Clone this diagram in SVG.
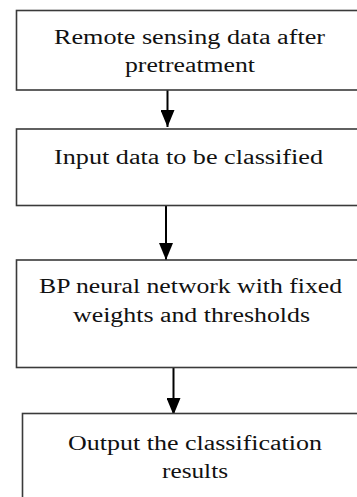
<svg xmlns="http://www.w3.org/2000/svg" width="357" height="497" viewBox="0 0 357 497">
<defs>
<style>
.box{fill:#fff;stroke:#3a3a3a;stroke-width:1.6}
.t{font-family:"Liberation Serif","Times New Roman",serif;font-size:20px;fill:#111;text-anchor:middle}
.c{stroke:#000;stroke-width:2;fill:none}
</style>
<marker id="ah" viewBox="0 0 17 14" refX="17" refY="7" markerWidth="17" markerHeight="14" markerUnits="userSpaceOnUse" orient="auto">
<path d="M0,0 L17,7 L0,14 z" fill="#000"/>
</marker>
</defs>
<rect width="357" height="497" fill="#fff"/>
<g id="connectors">
<line class="c" x1="167.5" y1="90" x2="167.5" y2="127" marker-end="url(#ah)"/>
<line class="c" x1="166" y1="200" x2="166" y2="260" marker-end="url(#ah)"/>
<line class="c" x1="173.5" y1="367" x2="173.5" y2="415" marker-end="url(#ah)"/>
</g>
<g id="n1">
<rect class="box" x="16.5" y="10.5" width="360" height="79.5"/>
<text class="t" x="189.5" y="43.5" textLength="271" lengthAdjust="spacingAndGlyphs">Remote sensing data after</text>
<text class="t" x="190" y="72" textLength="130" lengthAdjust="spacingAndGlyphs">pretreatment</text>
</g>
<g id="n2">
<rect class="box" x="16.5" y="129" width="360" height="76.5"/>
<text class="t" x="188.5" y="164" textLength="269" lengthAdjust="spacingAndGlyphs">Input data to be classified</text>
</g>
<g id="n3">
<rect class="box" x="16.5" y="260" width="360" height="107.5"/>
<text class="t" x="190.5" y="293" textLength="303" lengthAdjust="spacingAndGlyphs">BP neural network with fixed</text>
<text class="t" x="191.5" y="322" textLength="237" lengthAdjust="spacingAndGlyphs">weights and thresholds</text>
</g>
<g id="n4">
<rect class="box" x="22.5" y="413.5" width="360" height="100"/>
<text class="t" x="195" y="450" textLength="254" lengthAdjust="spacingAndGlyphs">Output the classification</text>
<text class="t" x="195" y="478" textLength="66" lengthAdjust="spacingAndGlyphs">results</text>
</g>
</svg>
